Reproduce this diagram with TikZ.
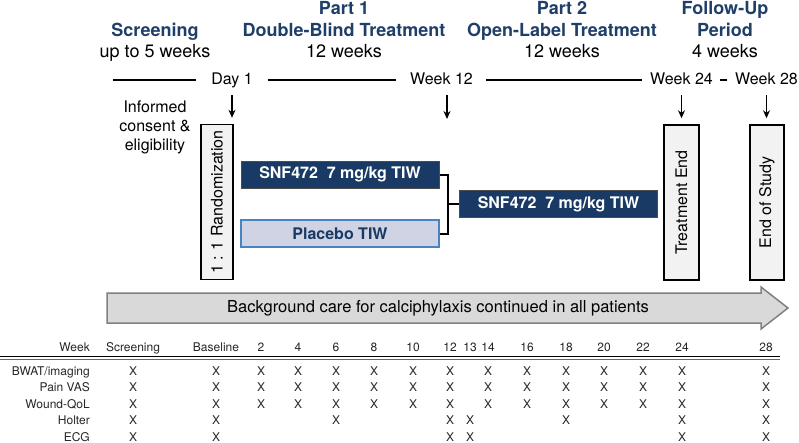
\documentclass[tikz,border=0pt]{standalone}
\usepackage{fontspec}
\setmainfont{TeX Gyre Heros}
\usetikzlibrary{positioning,arrows.meta,calc}
\definecolor{navyfill}{RGB}{24,58,100}
\definecolor{titleblue}{RGB}{31,62,104}
\definecolor{placfill}{RGB}{208,211,228}
\definecolor{placline}{RGB}{72,132,194}
\definecolor{boxgray}{RGB}{242,242,242}
\definecolor{bggray}{RGB}{217,217,217}
\definecolor{bgline}{RGB}{128,128,128}

\begin{document}
\begin{tikzpicture}[x=1pt, y=-1pt,
        ttl/.style={font=\fontsize{18}{22}\selectfont\bfseries, text=titleblue, anchor=base, inner sep=0pt},
        sub/.style={font=\fontsize{18}{22}\selectfont, anchor=base, inner sep=0pt},
        tlab/.style={font=\fontsize{16}{19}\selectfont, anchor=base, inner sep=0pt,
                     text height=11.5pt, text depth=3.5pt},
        tline/.style={line width=2pt},
        arr/.style={-{Stealth[length=8pt,width=7pt]}, line width=1.5pt},
        vbox/.style={draw, line width=1.5pt, fill=boxgray, rotate=90, minimum width=155pt,
                     minimum height=34pt, inner sep=0pt, font=\fontsize{16}{19}\selectfont},
        armbox/.style={draw=black!70, line width=1pt, minimum width=198pt, minimum height=27pt,
                       inner sep=0pt, font=\fontsize{16}{19}\selectfont\bfseries},
        conn/.style={line width=2pt},
        bgarr/.style={draw=bgline, fill=bggray, line width=1.5pt},
        tbl/.style={font=\fontsize{12}{14}\selectfont, text=black!85, anchor=base, inner sep=0pt}
    ]
    \useasboundingbox (0,0) rectangle (799,442);

    % phase headings
    \node[ttl] (scrA) at (155,36) {Screening};
    \node[sub] (scrB) at (155,57) {up to 5 weeks};
    \node[ttl] (pOneA) at (344,14) {Part 1};
    \node[ttl] (pOneB) at (344,36) {Double-Blind Treatment};
    \node[sub] (pOneC) at (344,57) {12 weeks};
    \node[ttl] (pTwoA) at (562,14) {Part 2};
    \node[ttl] (pTwoB) at (562,36) {Open-Label Treatment};
    \node[sub] (pTwoC) at (562,57) {12 weeks};
    \node[ttl] (fuA) at (725,14) {Follow-Up};
    \node[ttl] (fuB) at (725,36) {Period};
    \node[sub] (fuC) at (725,57) {4 weeks};

    % time line
    \coordinate (tlStart) at (113,80);
    \node[tlab] (day1) at (232,84) {Day 1};
    \node[tlab] (wk12) at (441.5,84) {Week 12};
    \node[tlab] (wk24) at (681.5,84) {Week 24};
    \node[tlab] (wk28) at (766.5,84) {Week 28};
    \draw[tline, shorten >=15pt] (tlStart) -- (day1.west);
    \draw[tline, shorten <=15pt, shorten >=14pt] (day1.east) -- (wk12.west);
    \draw[tline, shorten <=13pt, shorten >=8pt] (wk12.east) -- (wk24.west);
    \draw[tline, shorten <=7pt, shorten >=8pt] (wk24.east) -- (wk28.west);

    \node[font=\fontsize{16}{19}\selectfont, align=center, inner sep=0pt] (consent) at (155,127)
        {Informed\\consent \&\\eligibility};

    % milestone boxes (rotated: their east side is on top)
    \node[vbox, minimum height=32pt] (rand) at (217,202) {1 : 1 Randomization};
    \node[vbox, minimum height=35pt] (tend) at (681.5,202.5) {Treatment End};
    \node[vbox] (eos) at (767,202.5) {End of Study};

    \coordinate (wk12end) at (447,119);
    \draw[arr, shorten <=7.5pt, shorten >=6pt] (day1.south) -- (day1.south |- rand.east);
    \draw[arr, shorten <=7.5pt] (wk12end |- wk12.south) -- (wk12end);
    \draw[arr, shorten <=7.5pt, shorten >=6pt] (wk24.south) -- (wk24.south |- tend.east);
    \draw[arr, shorten <=7.5pt, shorten >=6pt] (wk28.south) -- (wk28.south |- eos.east);

    % treatment arms
    \node[armbox, fill=navyfill, text=white] (snfA) at (340,174.5) {SNF472\ \ 7 mg/kg TIW};
    \node[armbox, fill=placfill, draw=placline, line width=1.5pt, text=navyfill] (plac) at (340,233.5) {Placebo TIW};
    \node[armbox, fill=navyfill, text=white] (snfB) at (558.5,204) {SNF472\ \ 7 mg/kg TIW};
    \coordinate (jn) at (448,204);
    \draw[conn] (snfA.east) -| (jn) |- (plac.east);
    \draw[conn] (jn) -- (snfB.west);

    % background care arrow
    \draw[bgarr] (107,293) -- (761,293) -- (761,287) -- (788,308) -- (761,329) -- (761,323) -- (107,323) -- cycle;
    \node[font=\fontsize{16.5}{19}\selectfont, inner sep=0pt] (bgtext) at (438,308)
        {Background care for calciphylaxis continued in all patients};

    % schedule of assessments
    \node[tbl, anchor=base east] (hWeek) at (90,351) {Week};
    \foreach \nm/\xx/\lab in {scr/133/Screening, bl/216/Baseline, w2/261/2, w4/298/4, w6/336/6,
            w8/374/8, w10/413/10, w12/450/12, w13/470/13, w14/488/14, w16/527/16, w18/566/18,
            w20/604/20, w22/643/22, w24/682/24, w28/766/28}
        \node[tbl] (h\nm) at (\xx,351) {\lab};
    \draw[line width=0.9pt] (0,356.6) -- (780,356.6);
    \draw[line width=0.7pt, black!60] (0,359) -- (780,359);

    \foreach \rn/\yy/\lab/\cols in {
            bwat/375/{BWAT/imaging}/{133,216,261,298,336,374,413,450,488,527,566,604,643,682,766},
            vas/391.5/{Pain VAS}/{133,216,261,298,336,374,413,450,488,527,566,604,643,682,766},
            qol/408/{Wound-QoL}/{133,216,261,298,336,374,413,450,488,527,566,604,643,682,766},
            holt/424.5/{Holter}/{133,216,336,450,470,566,682,766},
            ecg/441/{ECG}/{133,216,450,470,682,766}} {
        \node[tbl, anchor=base east] (r\rn) at (90,\yy) {\lab};
        \foreach \xx in \cols
            \node[tbl] (x\rn\xx) at (\xx,\yy) {X};
    }
\end{tikzpicture}
\end{document}
